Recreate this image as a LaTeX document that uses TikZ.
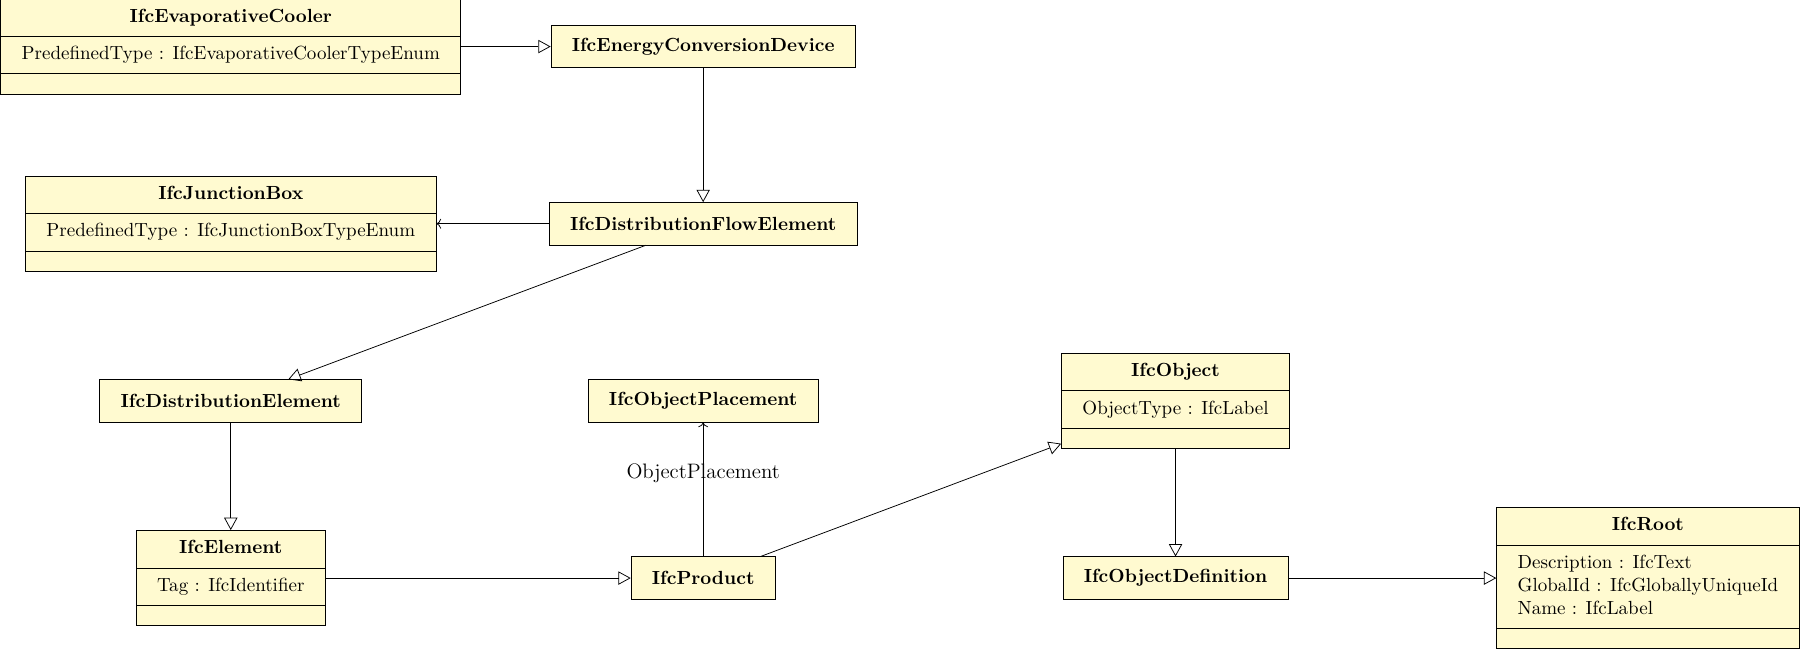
\documentclass[tikz,border=0pt]{standalone}
\usetikzlibrary{positioning, shapes.multipart, arrows.meta}
\definecolor{fondoclase}{RGB}{255,250,208}
\begin{document}
\begin{tikzpicture}
	% estilos
	\tikzstyle{clase} = [draw, fill=fondoclase, inner xsep=10.9pt, minimum height=22.3pt, font=\bfseries]
	\tikzstyle{clasemulti} = [draw, fill=fondoclase, rectangle split, rectangle split parts=3, inner xsep=11pt, inner ysep=3.65pt, align=left]
	\tikzstyle{herencia} = [-{Triangle[open, length=6.5pt, width=7pt]}]
	\tikzstyle{asociacion} = [->]
	\useasboundingbox (-121.4pt,24.5pt) rectangle (825.5pt,-316.8pt);
	% clases
	\node [clasemulti] (cooler)
	{\textbf{IfcEvaporativeCooler}\strut
	\nodepart{two} PredefinedType : IfcEvaporativeCoolerTypeEnum\strut
	\nodepart{three}\rule{0pt}{3pt}};
	\node [clase] (energia)	[right of =cooler, node distance=248.5pt]	{IfcEnergyConversionDevice};
	\node [clase] (flujo)	[below of =energia, node distance=93.2pt]	{IfcDistributionFlowElement};
	\node [clasemulti] (caja)	[left of =flujo, node distance=248.5pt]
	{\textbf{IfcJunctionBox}\strut
	\nodepart{two} PredefinedType : IfcJunctionBoxTypeEnum\strut
	\nodepart{three}\rule{0pt}{3pt}};
	\node [clase] (distrib)	[below of =caja, node distance=93.2pt]	{IfcDistributionElement};
	\node [clase] (ubicacion)	[right of =distrib, node distance=248.5pt]	{IfcObjectPlacement};
	\node [clasemulti] (objeto)	[right of =ubicacion, node distance=248.5pt]
	{\textbf{IfcObject}\strut
	\nodepart{two} ObjectType : IfcLabel\strut
	\nodepart{three}\rule{0pt}{3pt}};
	\node [clasemulti] (elemento)	[below of =distrib, node distance=93.2pt]
	{\textbf{IfcElement}\strut
	\nodepart{two} Tag : IfcIdentifier\strut
	\nodepart{three}\rule{0pt}{3pt}};
	\node [clase] (producto)	[right of =elemento, node distance=248.5pt]	{IfcProduct};
	\node [clase] (definicion)	[right of =producto, node distance=248.5pt]	{IfcObjectDefinition};
	\node [clasemulti] (raiz)	[right of =definicion, node distance=248.5pt]
	{\textbf{IfcRoot}\strut
	\nodepart{two} Description : IfcText\strut\\ GlobalId : IfcGloballyUniqueId\strut\\ Name : IfcLabel\strut
	\nodepart{three}\rule{0pt}{3pt}};
	% relaciones
	\draw [herencia] (cooler) to (energia);
	\draw [herencia] (energia) to (flujo);
	\draw [asociacion] (flujo) to (caja);
	\draw [herencia] (flujo) to (distrib);
	\draw [herencia] (distrib) to (elemento);
	\draw [herencia] (elemento) to (producto);
	\draw [asociacion] (producto) to node [above, font=\fontsize{11}{13}\selectfont] {ObjectPlacement} (ubicacion);
	\draw [herencia] (producto) to (objeto);
	\draw [herencia] (objeto) to (definicion);
	\draw [herencia] (definicion) to (raiz);
\end{tikzpicture}
\end{document}
